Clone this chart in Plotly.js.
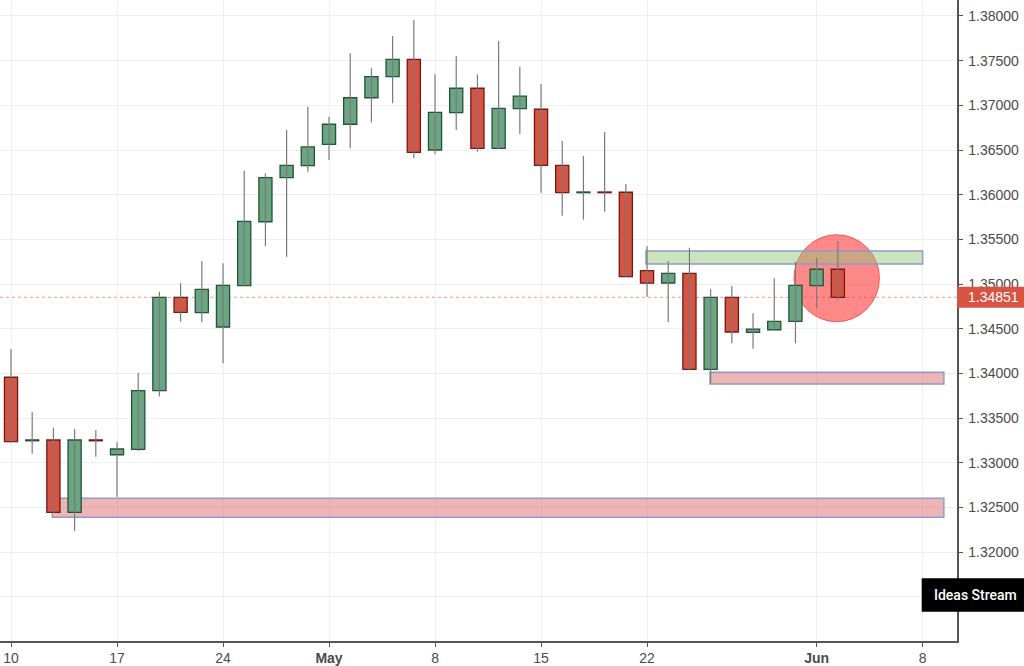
<!DOCTYPE html>
<html>
<head>
<meta charset="utf-8">
<script src="https://cdn.plot.ly/plotly-3.0.1.min.js"></script>
<style>
html,body{margin:0;padding:0;background:#fff;}
#chart{width:1024px;height:666px;}
</style>
</head>
<body>
<div id="chart"></div>
<script>
// ---- Data (USD/CAD daily, 2017) ----
const dates = [
  '2017-04-10','2017-04-11','2017-04-12','2017-04-13','2017-04-14',
  '2017-04-17','2017-04-18','2017-04-19','2017-04-20','2017-04-21',
  '2017-04-24','2017-04-25','2017-04-26','2017-04-27','2017-04-28',
  '2017-05-01','2017-05-02','2017-05-03','2017-05-04','2017-05-05',
  '2017-05-08','2017-05-09','2017-05-10','2017-05-11','2017-05-12',
  '2017-05-15','2017-05-16','2017-05-17','2017-05-18','2017-05-19',
  '2017-05-22','2017-05-23','2017-05-24','2017-05-25','2017-05-26',
  '2017-05-29','2017-05-30','2017-05-31','2017-06-01','2017-06-02'
];
const openP = [
  1.33956,1.33245,1.33254,1.32444,1.33255,
  1.33089,1.33150,1.33806,1.34851,1.34679,
  1.34519,1.34981,1.35697,1.36190,1.36324,
  1.36564,1.36788,1.37085,1.37321,1.37515,
  1.36500,1.36918,1.37191,1.36519,1.36962,
  1.36956,1.36329,1.36022,1.36030,1.36027,
  1.35149,1.35011,1.35120,1.34045,1.34851,
  1.34459,1.34488,1.34582,1.34981,1.35165
];
const highP = [
  1.34272,1.33571,1.33391,1.33377,1.33366,
  1.33228,1.34007,1.34914,1.35008,1.35258,
  1.35232,1.36268,1.36239,1.36724,1.36985,
  1.36873,1.37582,1.37415,1.37776,1.37955,
  1.37347,1.37552,1.37347,1.37720,1.37432,
  1.37239,1.36601,1.36433,1.36702,1.36119,
  1.35422,1.35258,1.35406,1.34941,1.34978,
  1.34672,1.35064,1.35250,1.35294,1.35481
];
const lowP = [
  1.33220,1.33100,1.32440,1.32235,1.33067,
  1.32619,1.33131,1.33742,1.34578,1.34571,
  1.34112,1.34975,1.35425,1.35306,1.36257,
  1.36388,1.36519,1.36810,1.37023,1.36407,
  1.36452,1.36724,1.36481,1.36510,1.36679,
  1.36022,1.35765,1.35720,1.35809,1.35075,
  1.34858,1.34575,1.34040,1.33888,1.34336,
  1.34276,1.34484,1.34336,1.34728,1.34821
];
const closeP = [
  1.33235,1.33255,1.32444,1.33254,1.33245,
  1.33153,1.33806,1.34851,1.34683,1.34941,
  1.34985,1.35702,1.36190,1.36329,1.36534,
  1.36788,1.37085,1.37321,1.37515,1.36474,
  1.36922,1.37191,1.36519,1.36967,1.37104,
  1.36327,1.36022,1.36030,1.36022,1.35082,
  1.35009,1.35120,1.34045,1.34851,1.34463,
  1.34496,1.34582,1.34985,1.35165,1.34851
];
const tickDates = ['2017-04-10','2017-04-17','2017-04-24','2017-05-01','2017-05-08','2017-05-15','2017-05-22','2017-06-01','2017-06-08'];
const tickLabels = ['10','17','24','<b>May</b>','8','15','22','<b>Jun</b>','8'];
const priceTicks = [1.315,1.320,1.325,1.330,1.335,1.340,1.345,1.350,1.355,1.360,1.365,1.370,1.375,1.380];
const hiddenPriceLabels = [1.315]; // covered by the "Ideas Stream" badge in the original

// zones drawn on the chart
const greenZone = {from:'2017-05-22', to:'2017-06-08', lo:1.35224, hi:1.35369};
const redZoneMid = {from:'2017-05-25', to:'2017-06-09', lo:1.33881, hi:1.34012};
const redZoneLow = {from:'2017-04-12', to:'2017-06-09', lo:1.32388, hi:1.32601};
const circleZone = {from:'2017-05-31', to:'2017-06-06', lo:1.34578, hi:1.35552};

// ---- business-day index (weekends removed, like the trading time axis) ----
const DAY = 86400000;
const base = Date.parse(dates[0] + 'T00:00:00Z');
function bizIndex(d, frac) {
  const t = Date.parse(d + 'T00:00:00Z');
  let n = 0;
  const step = t >= base ? 1 : -1;
  for (let c = base; c !== t; c += step * DAY) {
    const nd = new Date(c + step * DAY).getUTCDay();
    if (nd !== 0 && nd !== 6) n += step;
  }
  return n + (frac || 0);
}
const xs = dates.map(d => bizIndex(d));
const up = openP.map((o, i) => closeP[i] >= o);

// wicks
const wx = [], wy = [];
xs.forEach((x, i) => { wx.push(x, x, null); wy.push(lowP[i], highP[i], null); });

// bodies
const bodyBase = openP.map((o, i) => Math.min(o, closeP[i]));
const bodyH = openP.map((o, i) => Math.max(Math.abs(closeP[i] - o), 0.00003));
const UPF = '#6ba583', UPL = '#225437', DNF = '#d75442', DNL = '#6b1c14';

const traces = [
  {type:'scatter', mode:'lines', x:wx, y:wy, line:{color:'#7a7a7a', width:1.2},
   hoverinfo:'skip', showlegend:false, connectgaps:false},
  {type:'bar', x:xs, y:bodyH, base:bodyBase, width:0.62,
   marker:{color:up.map(u => u ? UPF : DNF), line:{color:up.map(u => u ? UPL : DNL), width:1.3}},
   showlegend:false, hoverinfo:'skip'}
];

const lastClose = closeP[closeP.length - 1];
const zoneLine = {color:'#8d9bd0', width:1.5};
const shapes = [
  {type:'circle', xref:'x', yref:'y', layer:'between',
   x0:bizIndex(circleZone.from, -0.07), x1:bizIndex(circleZone.to, -0.04),
   y0:circleZone.lo, y1:circleZone.hi,
   fillcolor:'rgba(255,40,40,0.55)', line:{color:'rgba(240,60,60,0.8)', width:1}},
  {type:'rect', xref:'x', yref:'y', layer:'between',
   x0:bizIndex(greenZone.from, -0.05), x1:bizIndex(greenZone.to), y0:greenZone.lo, y1:greenZone.hi,
   fillcolor:'rgba(146,198,120,0.48)', line:zoneLine},
  {type:'rect', xref:'x', yref:'y', layer:'between',
   x0:bizIndex(redZoneMid.from, -0.03), x1:bizIndex(redZoneMid.to), y0:redZoneMid.lo, y1:redZoneMid.hi,
   fillcolor:'rgba(220,90,90,0.45)', line:zoneLine},
  {type:'rect', xref:'x', yref:'y', layer:'between',
   x0:bizIndex(redZoneLow.from, -0.05), x1:bizIndex(redZoneLow.to), y0:redZoneLow.lo, y1:redZoneLow.hi,
   fillcolor:'rgba(220,90,90,0.45)', line:zoneLine},
  {type:'line', xref:'paper', yref:'y', layer:'between', x0:0, x1:1, y0:lastClose, y1:lastClose,
   line:{color:'rgba(240,120,110,0.8)', width:1, dash:'dot'}},
  // last price tag
  {type:'rect', xref:'paper', yref:'y', ysizemode:'pixel', yanchor:lastClose,
   x0:1.0, x1:1.075, y0:-10.5, y1:10.5, fillcolor:'#d75442', line:{width:0}, layer:'above'},
  // Ideas Stream box
  {type:'rect', xref:'paper', yref:'paper', x0:0.9631, x1:1.075, y0:0.0457, y1:0.0978,
   fillcolor:'#000', line:{width:0}, layer:'above'}
];

const annotations = [
  {xref:'paper', yref:'y', x:1.0, y:lastClose, xanchor:'left', yanchor:'middle', xshift:9,
   text:lastClose.toFixed(5), showarrow:false,
   font:{family:'Liberation Sans, Arial, sans-serif', size:14, color:'#fff'}},
  {xref:'paper', yref:'paper', x:1.019, y:0.0717, xanchor:'center', yanchor:'middle',
   text:'Ideas Stream', showarrow:false,
   font:{family:'Roboto, Liberation Sans, sans-serif', size:14, color:'#fff', weight:500}}
];

const axisFont = {family:'Liberation Sans, Arial, sans-serif', size:14, color:'#4a4a4a'};
const layout = {
  width:1024, height:666,
  margin:{l:0, r:67, t:0, b:25, pad:0},
  paper_bgcolor:'#fff', plot_bgcolor:'#fff',
  showlegend:false, barmode:'overlay',
  xaxis:{type:'linear', range:[-0.519, 44.62], tickmode:'array',
    tickvals:tickDates.map(d => bizIndex(d)), ticktext:tickLabels,
    showgrid:true, gridcolor:'#efefef', gridwidth:1, zeroline:false,
    showline:true, linecolor:'#555', linewidth:1.5,
    ticks:'outside', ticklen:4, tickcolor:'#555', tickfont:axisFont, fixedrange:true},
  yaxis:{side:'right', range:[1.31004, 1.38179], tickmode:'array',
    tickvals:priceTicks,
    ticktext:priceTicks.map(v => hiddenPriceLabels.includes(v) ? '' : v.toFixed(5)),
    showgrid:true, gridcolor:'#efefef', gridwidth:1, zeroline:false,
    showline:true, linecolor:'#555', linewidth:1.5, ticklabelstandoff:3,
    ticks:'outside', ticklen:4, tickcolor:'#555', tickfont:axisFont, fixedrange:true},
  shapes:shapes, annotations:annotations
};

Plotly.newPlot('chart', traces, layout, {displayModeBar:false, staticPlot:true});
</script>
</body>
</html>
